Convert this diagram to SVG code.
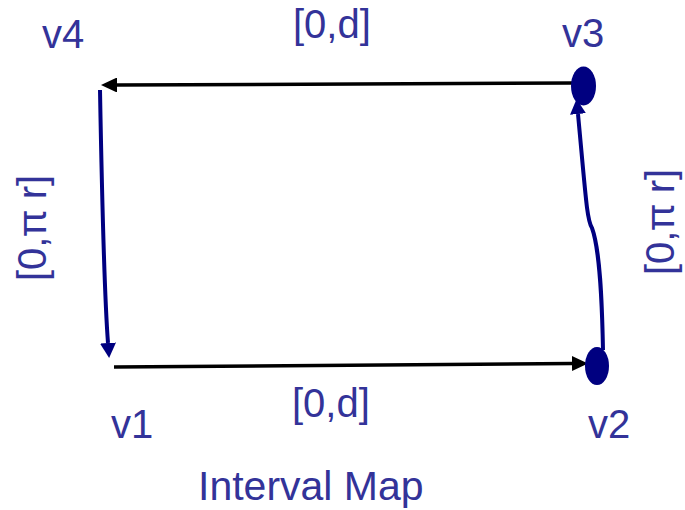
<svg xmlns="http://www.w3.org/2000/svg" width="685" height="510" viewBox="0 0 685 510">
<defs>
<style>
text{font-family:"Liberation Sans",Arial,sans-serif;fill:#333399;font-size:40px}
.pi{font-family:"Noto Sans","DejaVu Sans",sans-serif}
.blk{stroke:#000;stroke-width:3.5;fill:none}
.nav{stroke:#000080;stroke-width:4;fill:none}
.node{fill:#000080}
</style>
<marker id="ab" viewBox="0 0 16 15" refX="0" refY="7.5" markerWidth="16" markerHeight="15" markerUnits="userSpaceOnUse" orient="auto"><path d="M0,0 L16,7.5 L0,15 z" fill="#000"/></marker>
<marker id="an" viewBox="0 0 15 16" refX="0" refY="8" markerWidth="15" markerHeight="16" markerUnits="userSpaceOnUse" orient="auto"><path d="M0,0 L15,8 L0,16 z" fill="#000080"/></marker>
</defs>
<g id="connectors">
<path class="blk" d="M573,83 L117,85" marker-end="url(#ab)"/>
<path class="blk" d="M114,367 L572,363.5" marker-end="url(#ab)"/>
<path class="nav" d="M100,90 C102,200 104,290 108,343" marker-end="url(#an)"/>
<path class="nav" d="M603,350 C602,300 600,250 592,228 C587,220 586,200 578,114" marker-end="url(#an)"/>
</g>
<g id="v3"><ellipse class="node" cx="583.5" cy="86" rx="12.5" ry="19.5"/><text x="562" y="47">v3</text></g>
<g id="v2"><ellipse class="node" cx="597" cy="366" rx="12" ry="19"/><text x="588" y="438">v2</text></g>
<g id="v4"><text x="42" y="48">v4</text></g>
<g id="v1"><text x="111" y="438">v1</text></g>
<g id="labels">
<text x="293" y="38">[0,d]</text>
<text x="292" y="417">[0,d]</text>
<text transform="translate(46,228) rotate(-90)" text-anchor="middle">[0,<tspan class="pi">π</tspan> r]</text>
<text transform="translate(674,222) rotate(-90)" text-anchor="middle">[0,<tspan class="pi">π</tspan> r]</text>
<text x="198" y="500" style="font-size:41px">Interval Map</text>
</g>
</svg>
